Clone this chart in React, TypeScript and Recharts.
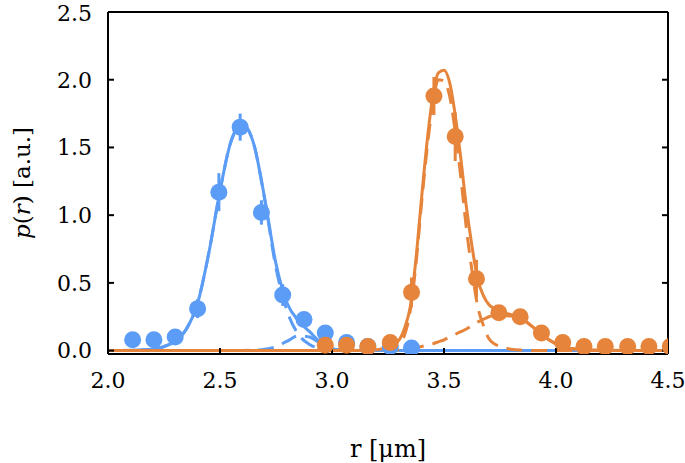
import type React from 'react';
import {
  ComposedChart,
  Line,
  Scatter,
  ErrorBar,
  XAxis,
  YAxis,
  Label,
} from 'recharts';

// axis ticks
const xTicks = [2.0, 2.5, 3.0, 3.5, 4.0, 4.5];
const yTicks = [0, 0.5, 1.0, 1.5, 2.0, 2.5];

// measured points (blue)
const blueR = [2.11, 2.205, 2.3, 2.4, 2.495, 2.59, 2.685, 2.78, 2.875, 2.97, 3.065, 3.16, 3.26, 3.355];
const blueP = [0.08, 0.08, 0.1, 0.31, 1.17, 1.65, 1.02, 0.41, 0.23, 0.13, 0.06, 0.03, 0.03, 0.02];
const blueErr = [0, 0, 0.02, 0.07, 0.14, 0.1, 0.09, 0.08, 0.05, 0.03, 0.02, 0, 0, 0];

// measured points (orange)
const orangeR = [2.97, 3.065, 3.16, 3.26, 3.355, 3.455, 3.55, 3.645, 3.745, 3.84, 3.935, 4.03, 4.125, 4.22, 4.32, 4.415, 4.51];
const orangeP = [0.04, 0.04, 0.03, 0.06, 0.43, 1.88, 1.58, 0.53, 0.28, 0.25, 0.13, 0.06, 0.03, 0.03, 0.03, 0.03, 0.03];
const orangeErr = [0, 0, 0.01, 0.02, 0.11, 0.14, 0.18, 0.14, 0.04, 0.03, 0.02, 0, 0, 0, 0, 0, 0];

// fit curves (blue)
const blueCurveR = [2.0, 2.1, 2.15, 2.2, 2.25, 2.3, 2.35, 2.4, 2.45, 2.5, 2.55, 2.6, 2.65, 2.7, 2.75, 2.8, 2.85, 2.9, 2.95, 3.0, 3.05, 3.1, 4.5];
const blueFit = [0, 0.002, 0.005, 0.012, 0.03, 0.07, 0.16, 0.35, 0.72, 1.18, 1.55, 1.67, 1.53, 1.12, 0.64, 0.35, 0.22, 0.14, 0.06, 0.015, 0.003, 0, 0];
const blueMain = [0, 0.002, 0.005, 0.012, 0.03, 0.07, 0.16, 0.35, 0.72, 1.18, 1.55, 1.67, 1.53, 1.11, 0.61, 0.29, 0.12, 0.045, 0.015, 0.004, 0.001, 0, 0];
const blueSecond = [0, 0, 0, 0, 0, 0, 0, 0, 0, 0, 0, 0.001, 0.003, 0.01, 0.03, 0.07, 0.11, 0.1, 0.05, 0.015, 0.003, 0, 0];

// fit curves (orange)
const orangeCurveR = [2.0, 3.1, 3.2, 3.25, 3.3, 3.325, 3.35, 3.375, 3.4, 3.425, 3.45, 3.475, 3.5, 3.525, 3.55, 3.575, 3.6, 3.625, 3.65, 3.675, 3.7, 3.725, 3.75, 3.8, 3.85, 3.9, 3.95, 4.0, 4.05, 4.1, 4.2, 4.5];
const orangeFit = [0, 0, 0.006, 0.025, 0.08, 0.17, 0.33, 0.68, 1.13, 1.55, 1.88, 2.05, 2.07, 1.98, 1.74, 1.42, 1.06, 0.77, 0.53, 0.41, 0.34, 0.31, 0.29, 0.265, 0.233, 0.17, 0.1, 0.05, 0.02, 0.01, 0.002, 0];
const orangeMain = [0, 0, 0.003, 0.012, 0.05, 0.12, 0.3, 0.64, 1.09, 1.5, 1.82, 2.0, 1.99, 1.88, 1.62, 1.28, 0.9, 0.59, 0.33, 0.19, 0.09, 0.05, 0.03, 0.01, 0.003, 0, 0, 0, 0, 0, 0, 0];
const orangeSecond = [0, 0, 0.002, 0.004, 0.007, 0.01, 0.015, 0.022, 0.03, 0.04, 0.05, 0.065, 0.08, 0.1, 0.12, 0.14, 0.16, 0.185, 0.21, 0.23, 0.25, 0.26, 0.26, 0.255, 0.23, 0.17, 0.1, 0.05, 0.02, 0.01, 0.002, 0];

const BLUE = '#5b9cf6';
const ORANGE = '#e5843a';
const FONT = 'DejaVu Serif';

const toPoints = (r: number[], p: number[], err: number[]) =>
  r.map((x, i) => ({ x, y: p[i], err: err[i] }));
const toCurve = (r: number[], v: number[]) => r.map((x, i) => ({ x, y: v[i] }));

const bluePoints = toPoints(blueR, blueP, blueErr);
const orangePoints = toPoints(orangeR, orangeP, orangeErr);

const dot = (color: string) => (props: any) =>
  <circle cx={props.cx} cy={props.cy} r={8.5} fill={color} />;

const tickStyle = { fill: '#000', fontSize: 22, fontFamily: FONT };
const blank = () => '';

const App: React.FC = () => {
  return (
    <div style={{ position: 'absolute', left: 0, top: 0 }}>
      <ComposedChart
        width={685}
        height={463}
        margin={{ top: 11, right: 16, left: 0, bottom: 0 }}
        style={{ fontFamily: FONT }}
      >
        <XAxis
          xAxisId="b"
          dataKey="x"
          type="number"
          domain={[2, 4.5]}
          ticks={xTicks}
          allowDataOverflow
          height={109}
          tickSize={-6}
          tickMargin={24}
          tickFormatter={(v: number) => v.toFixed(1)}
          tick={tickStyle}
          axisLine={{ stroke: '#000', strokeWidth: 2 }}
          tickLine={{ stroke: '#000', strokeWidth: 2 }}
        >
          <Label
            content={() => (
              <text x={388} y={457} textAnchor="middle" fontSize={24} fontFamily={FONT} fill="#000">
                r [μm]
              </text>
            )}
          />
        </XAxis>
        <XAxis
          xAxisId="t"
          orientation="top"
          type="number"
          domain={[2, 4.5]}
          ticks={xTicks}
          allowDataOverflow
          height={1}
          tickSize={-6}
          tickFormatter={blank}
          axisLine={{ stroke: '#000', strokeWidth: 2 }}
          tickLine={{ stroke: '#000', strokeWidth: 2 }}
        />
        <YAxis
          yAxisId="l"
          type="number"
          domain={[-0.025, 2.5]}
          ticks={yTicks}
          allowDataOverflow
          width={108}
          tickSize={-6}
          tickMargin={22}
          tickFormatter={(v: number) => v.toFixed(1)}
          tick={tickStyle}
          axisLine={{ stroke: '#000', strokeWidth: 2 }}
          tickLine={{ stroke: '#000', strokeWidth: 2 }}
        >
          <Label
            content={() => (
              <text
                x={30}
                y={183}
                transform="rotate(-90 30 183)"
                textAnchor="middle"
                fontSize={23}
                fontFamily={FONT}
                fill="#000"
              >
                <tspan fontStyle="italic">p</tspan>(<tspan fontStyle="italic">r</tspan>) [a.u.]
              </text>
            )}
          />
        </YAxis>
        <YAxis
          yAxisId="r"
          orientation="right"
          type="number"
          domain={[-0.025, 2.5]}
          ticks={yTicks}
          allowDataOverflow
          width={1}
          tickSize={-6}
          tickFormatter={blank}
          axisLine={{ stroke: '#000', strokeWidth: 2 }}
          tickLine={{ stroke: '#000', strokeWidth: 2 }}
        />

        <Line xAxisId="b" yAxisId="l" data={toCurve(blueCurveR, blueFit)} dataKey="y" type="monotone"
          stroke={BLUE} strokeWidth={3} dot={false} isAnimationActive={false} />
        <Line xAxisId="b" yAxisId="l" data={toCurve(blueCurveR, blueMain)} dataKey="y" type="monotone"
          stroke={BLUE} strokeWidth={3} strokeDasharray="16 9" dot={false} isAnimationActive={false} />
        <Line xAxisId="b" yAxisId="l" data={toCurve(blueCurveR, blueSecond)} dataKey="y" type="monotone"
          stroke={BLUE} strokeWidth={3} strokeDasharray="16 9" dot={false} isAnimationActive={false} />
        <Line xAxisId="b" yAxisId="l" data={toCurve(orangeCurveR, orangeFit)} dataKey="y" type="monotone"
          stroke={ORANGE} strokeWidth={3} dot={false} isAnimationActive={false} />
        <Line xAxisId="b" yAxisId="l" data={toCurve(orangeCurveR, orangeMain)} dataKey="y" type="monotone"
          stroke={ORANGE} strokeWidth={3} strokeDasharray="16 9" dot={false} isAnimationActive={false} />
        <Line xAxisId="b" yAxisId="l" data={toCurve(orangeCurveR, orangeSecond)} dataKey="y" type="monotone"
          stroke={ORANGE} strokeWidth={3} strokeDasharray="16 9" dot={false} isAnimationActive={false} />

        <Scatter xAxisId="b" yAxisId="l" data={bluePoints} dataKey="y" shape={dot(BLUE)} isAnimationActive={false}>
          <ErrorBar dataKey="err" direction="y" width={0} stroke={BLUE} strokeWidth={3} isAnimationActive={false} />
        </Scatter>
        <Scatter xAxisId="b" yAxisId="l" data={orangePoints} dataKey="y" shape={dot(ORANGE)} isAnimationActive={false}>
          <ErrorBar dataKey="err" direction="y" width={0} stroke={ORANGE} strokeWidth={3} isAnimationActive={false} />
        </Scatter>
      </ComposedChart>
    </div>
  );
};

export default App;
